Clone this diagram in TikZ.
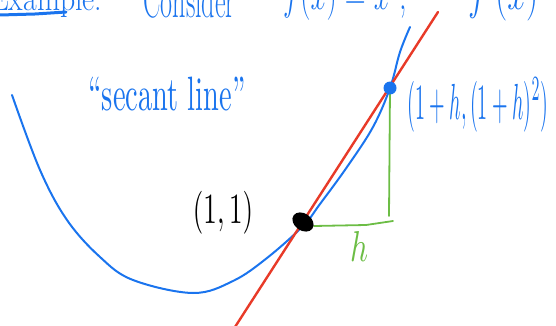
\documentclass[tikz,border=0pt]{standalone}
\usepackage{fontspec}
\usepackage{graphicx}
\usetikzlibrary{shapes.geometric}
\definecolor{penblue}{HTML}{1A74EE}
\definecolor{penred}{HTML}{E83A28}
\definecolor{pengreen}{HTML}{6CBD45}
\tikzset{
  curve/.style={penblue, line width=2pt, line cap=round, line join=round},
  secline/.style={penred, line width=2.4pt, line cap=round},
  rise/.style={pengreen, line width=1.8pt, line cap=round, line join=round},
  bluetext/.style={penblue, inner sep=0pt},
  toptext/.style={penblue, inner sep=0pt, font=\fontsize{26}{26}\selectfont},
}
\begin{document}
\begin{tikzpicture}[x=1pt,y=-1pt]
\useasboundingbox (0,0) rectangle (556,326);
\clip (0,0) rectangle (556,326);

% top line of text (cut off by the top edge)
\node[toptext, anchor=base west] (ex) at (-10,11) {\resizebox*{112pt}{32pt}{Example:}};
\draw[penblue, line width=3pt, line cap=round] (0,15) -- (35,14) -- (66,12);
\node[toptext, anchor=base west] (cons) at (143,18) {\resizebox*{92pt}{36pt}{Consider}};
\node[toptext, anchor=south west] (fx) at (283,21) {\resizebox*{124pt}{46pt}{$f(x)=x^2$,}};
\node[toptext, anchor=south west] (fpx) at (468,21) {\resizebox*{70pt}{46pt}{$f'(x)$}};

% points
\coordinate (P) at (303,222);
\coordinate (Q) at (390,88);
\coordinate (C) at (389,216);
\coordinate (Hs) at (314,226);
\coordinate (Hm) at (366,225);
\coordinate (He) at (393,221);
\coordinate (R1) at (438,12);
\coordinate (R2) at (235,327);

% parabola
\draw[curve] plot[smooth, tension=0.6] coordinates {
  (12,95) (40,170) (67,220) (100,257) (133,280) (193,293) (233,281)
  (267,258) (303,226) (320,204) (347,167) (373,127) (390,88) (400,52) (410,27)};

% secant line
\draw[secline] (R1) -- (R2);

% rise and run
\draw[rise] (Q) -- (C);
\draw[rise] (Hs) -- (Hm) -- (He);

% points on curve
\node[fill=black, ellipse, minimum width=23pt, minimum height=17pt, inner sep=0pt, rotate=-35] (blob) at (P) {};
\node[fill=penblue, circle, minimum size=13pt, inner sep=0pt] (dot) at (Q) {};

% labels
\node[bluetext] (sec) at (167,94) {\resizebox*{157pt}{34pt}{``secant line''}};
\node[bluetext] (qlab) at (478,105) {\resizebox*{141pt}{54pt}{$(1+h,(1+h)^2)$}};
\node[inner sep=0pt] (plab) at (223,213) {\resizebox*{60pt}{43pt}{$(1,1)$}};
\node[pengreen, inner sep=0pt] (hlab) at (359,246) {\resizebox*{18pt}{30pt}{$h$}};
\end{tikzpicture}
\end{document}
